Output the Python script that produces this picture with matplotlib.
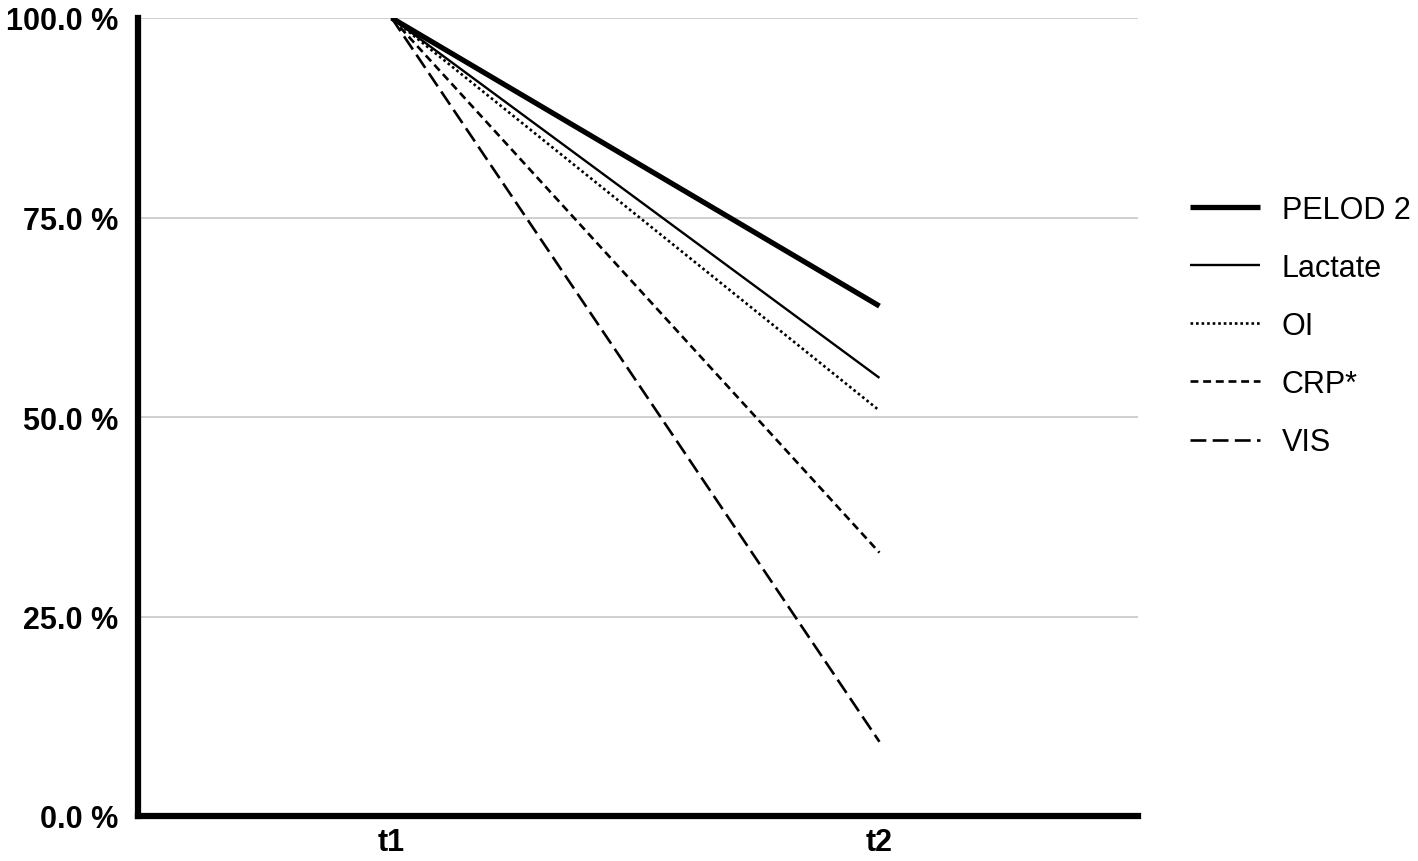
import matplotlib
matplotlib.use("Agg")
import matplotlib.pyplot as plt

timepoints = ["t1", "t2"]
series_names = ["PELOD 2", "Lactate", "OI", "CRP*", "VIS"]
pelod2 = [100.0, 63.9]
lactate = [100.0, 54.9]
oi = [100.0, 50.8]
crp = [100.0, 33.0]
vis = [100.0, 9.3]
ytick_values = [0, 25, 50, 75, 100]
ytick_labels = ["0.0 %", "25.0 %", "50.0 %", "75.0 %", "100.0 %"]

plt.rcParams['font.family'] = ['Liberation Sans', 'DejaVu Sans']

fig = plt.figure(figsize=(14.18, 8.62), dpi=100)
ax = fig.add_axes([138/1418, 1 - 817/862, (1138-138)/1418, (817-19)/862])

x = list(range(len(timepoints)))
styles = [
    dict(lw=3.8, ls='-'),
    dict(lw=1.7, ls='-'),
    dict(lw=1.9, ls=(0, (1, 1.1))),
    dict(lw=1.9, ls=(0, (3, 1.8))),
    dict(lw=1.9, ls=(0, (6, 2.4))),
]
for name, vals, st in zip(series_names, [pelod2, lactate, oi, crp, vis], styles):
    ax.plot(x, vals, color='black', label=name, solid_capstyle='butt',
            dash_capstyle='butt', **st)

ax.set_xlim(-0.52, 1.53)
ax.set_ylim(0, 100)
ax.set_xticks(x)
ax.set_xticklabels(timepoints, fontsize=22, fontweight='bold')
ax.set_yticks(ytick_values)
ax.set_yticklabels(ytick_labels, fontsize=22, fontweight='bold')
ax.tick_params(length=0, pad=14)
ax.tick_params(axis='x', pad=8)
ax.yaxis.grid(True, color='#c8c8c8', lw=1.2)
ax.set_axisbelow(True)
for s in ['top', 'right']:
    ax.spines[s].set_visible(False)
for s in ['left', 'bottom']:
    ax.spines[s].set_linewidth(4.5)
    ax.spines[s].set_color('black')

leg = fig.legend(loc='center left', bbox_to_anchor=(1190/1418, 1 - 327/862),
                 frameon=False, fontsize=22, handlelength=2.3, labelspacing=0.92,
                 handletextpad=0.7, borderaxespad=0, borderpad=0)

fig.savefig('out.png', dpi=100, facecolor='white')
